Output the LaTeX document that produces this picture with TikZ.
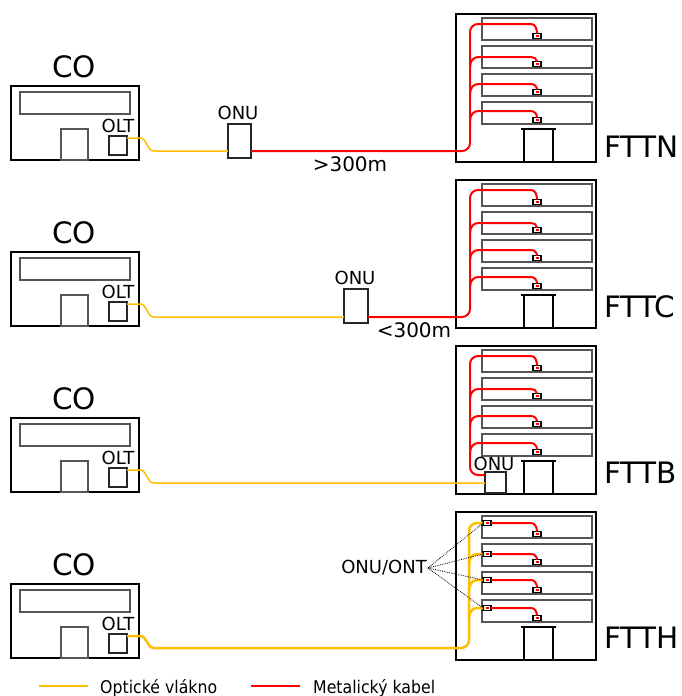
\documentclass[tikz,border=0pt]{standalone}
\usepackage{fontspec}
\setmainfont{DejaVu Sans}
\newfontfamily\legendfont[FakeStretch=0.9]{DejaVu Sans}
\definecolor{fiber}{RGB}{255,190,0}
\definecolor{metal}{RGB}{255,0,0}
\definecolor{grayline}{RGB}{85,85,85}
\begin{document}
\begin{tikzpicture}[x=1pt,y=-1pt,
  box/.style={draw, line width=2pt, inner sep=0pt, outer sep=0pt, anchor=north west},
  gbox/.style={draw=grayline, line width=1.6pt, inner sep=0pt, outer sep=0pt, anchor=north west},
  smallbox/.style={draw=black!85, line width=1.5pt, inner sep=0pt, outer sep=0pt, anchor=north west},
  floorbox/.style={draw=grayline, line width=1.5pt, inner sep=0pt, outer sep=0pt, anchor=north west, minimum width=110pt, minimum height=22pt},
  plug/.style={draw, line width=1.4pt, fill=white, inner sep=0pt, outer sep=0pt, minimum width=8pt, minimum height=5pt,
    path picture={\fill[metal] ([xshift=-1.5pt,yshift=-0.7pt]path picture bounding box.center) rectangle ([xshift=1.5pt,yshift=0.7pt]path picture bounding box.center);}},
  lbl/.style={inner sep=0pt, font=\fontsize{18}{20}\selectfont},
  big/.style={inner sep=0pt, font=\fontsize{29.5}{31}\selectfont},
  dist/.style={inner sep=0pt, font=\fontsize{20}{22}\selectfont},
  fiberwire/.style={draw=fiber, line width=1.5pt},
  metalwire/.style={draw=metal, line width=2pt},
]
\useasboundingbox (0,0) rectangle (681,696);

% common parts of the four panels
\foreach \p/\dy in {1/0,2/166,3/332,4/498}{
  \begin{scope}[shift={(0,\dy)}]
    \node[big] (co\p) at (74,67) {CO};
    \node[box, minimum width=128pt, minimum height=74pt] (cob\p) at (11,86) {};
    \node[gbox, minimum width=110pt, minimum height=22pt] (cow\p) at (20,92) {};
    \node[gbox, minimum width=27pt, minimum height=31pt] (cod\p) at (61,129) {};
    \node[smallbox, minimum width=18pt, minimum height=19pt] (olt\p) at (109,136) {};
    \node[lbl] (oltl\p) at (118,126) {OLT};
    \node[box, minimum width=140pt, minimum height=148pt] (b\p) at (456,14) {};
    \foreach \i/\t in {1/18,2/46,3/74,4/102}{
      \node[floorbox] (f\p-\i) at (482,\t) {};
      \node[plug] (s\p-\i) at (537,\t+18) {};
    }
    \node[box, minimum width=29pt, minimum height=33pt] (door\p) at (524,129) {};
    \draw[line width=2pt] ([xshift=-3pt]door\p.north west) -- ([xshift=3pt]door\p.north east);
  \end{scope}
}

\node[big, anchor=west] (t1) at (604,147) {FTTN};
\node[big, anchor=west] (t2) at (604,307) {FTTC};
\node[big, anchor=west] (t3) at (604,473) {FTTB};
\node[big, anchor=west] (t4) at (604,638) {FTTH};

% ---------- panel 1: FTTN ----------
\node[smallbox, minimum width=23pt, minimum height=34pt] (onu1) at (228,124) {};
\node[lbl] (onul1) at (238,113) {ONU};
\node[dist] (d1) at (350,164) {>300m};
\draw[fiberwire] ([yshift=-2pt]olt1.north east) -- (140,138) .. controls (147,138) and (147,151) .. (154,151) -- (onu1.west |- 154,151);
\draw[metalwire] (onu1.east |- 0,151) -- (462,151) to[out=0,in=-90] (470,143) -- (470,32) to[out=90,in=180] (478,24) -- (531,24) to[out=0,in=90] (s1-1.north);
\foreach \i/\yy in {2/57,3/84,4/111}
  \draw[metalwire] (470,\yy+10) to[out=90,in=180] (478,\yy) -- (531,\yy) to[out=0,in=90] (s1-\i.north);

% ---------- panel 2: FTTC ----------
\begin{scope}[shift={(0,166)}]
  \node[smallbox, minimum width=24pt, minimum height=34pt] (onu2) at (344,123) {};
  \node[lbl] (onul2) at (355,112) {ONU};
  \node[dist] (d2) at (414,164) {<300m};
  \draw[fiberwire] ([yshift=-2pt]olt2.north east) -- (140,138) .. controls (147,138) and (147,151) .. (154,151) -- (onu2.west |- 154,151);
  \draw[metalwire] (onu2.east |- 0,151) -- (462,151) to[out=0,in=-90] (470,143) -- (470,32) to[out=90,in=180] (478,24) -- (531,24) to[out=0,in=90] (s2-1.north);
  \foreach \i/\yy in {2/57,3/84,4/111}
    \draw[metalwire] (470,\yy+10) to[out=90,in=180] (478,\yy) -- (531,\yy) to[out=0,in=90] (s2-\i.north);
\end{scope}

% ---------- panel 3: FTTB ----------
\begin{scope}[shift={(0,332)}]
  \node[smallbox, minimum width=21pt, minimum height=21pt] (onu3) at (485,140) {};
  \node[lbl] (onul3) at (494,132) {ONU};
  \draw[fiberwire] ([yshift=-2pt]olt3.north east) -- (140,138) .. controls (147,138) and (147,151) .. (154,151) -- (onu3.west |- 154,151);
  \draw[metalwire] (onu3.west |- 0,143) -- (478,143) to[out=180,in=-90] (470,135) -- (470,32) to[out=90,in=180] (478,24) -- (531,24) to[out=0,in=90] (s3-1.north);
  \foreach \i/\yy in {2/57,3/84,4/111}
    \draw[metalwire] (470,\yy+10) to[out=90,in=180] (478,\yy) -- (531,\yy) to[out=0,in=90] (s3-\i.north);
\end{scope}

% ---------- panel 4: FTTH ----------
\begin{scope}[shift={(0,498)}]
  \foreach \i/\yy in {1/25,2/56,3/82,4/110}
    \node[plug] (o4-\i) at (487,\yy) {};
  \draw[fiberwire, line width=2.5pt] ([yshift=-2pt]olt4.north east) -- (140,138) .. controls (147,138) and (147,150) .. (154,150) -- (461,150) to[out=0,in=-90] (469,142) -- (469,33) to[out=90,in=180] (477,25) -- (o4-1.west);
  \foreach \i/\yy in {2/56,3/82,4/110}
    \draw[fiberwire, line width=2.5pt] (469,\yy+10) to[out=90,in=180] (477,\yy) -- (o4-\i.west);
  \foreach \i/\yy in {1/25,2/56,3/82,4/110}
    \draw[metalwire] (o4-\i.east) -- (531,\yy) to[out=0,in=90] (s4-\i.north);
  \node[lbl] (ont) at (384,70) {ONU/ONT};
  \foreach \i in {1,...,4}
    \draw[densely dotted, line width=0.8pt] ([xshift=1pt]ont.east) -- (o4-\i.west);
\end{scope}

% ---------- legend ----------
\coordinate (ly1) at (39,686);
\coordinate (ly2) at (88,686);
\coordinate (lr1) at (251,686);
\coordinate (lr2) at (300,686);
\draw[fiber, line width=2pt] (ly1) -- (ly2);
\draw[metal, line width=2pt] (lr1) -- (lr2);
\node[anchor=base west, inner sep=0pt, font=\legendfont\fontsize{17.5}{19}\selectfont] (lt1) at (100,693) {Optické vlákno};
\node[anchor=base west, inner sep=0pt, font=\legendfont\fontsize{17.5}{19}\selectfont] (lt2) at (313,693) {Metalický kabel};
\end{tikzpicture}
\end{document}
